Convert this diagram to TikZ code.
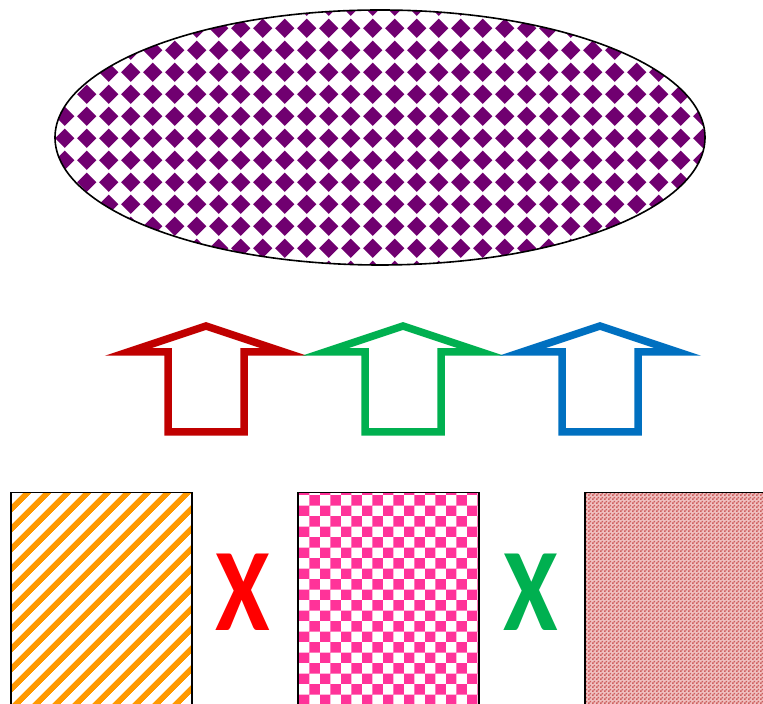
\documentclass[tikz,border=0pt]{standalone}
\usepackage{fontspec}
\usepackage{xcolor}
\usepackage{tikz}
\usetikzlibrary{shapes.geometric,patterns.meta}

\newfontfamily\crossfont{Carlito}

\definecolor{plum}{RGB}{112,0,112}
\definecolor{stripeorange}{RGB}{255,153,0}
\definecolor{hotpink}{RGB}{255,51,153}
\definecolor{rosebg}{RGB}{240,192,192}
\definecolor{rosedot}{RGB}{205,95,95}
\definecolor{arrowred}{RGB}{192,0,0}
\definecolor{arrowgreen}{RGB}{0,176,80}
\definecolor{arrowblue}{RGB}{0,112,192}

\tikzdeclarepattern{
  name=diamondgrid, type=uncolored,
  bounding box={(-10.85pt,-10.85pt) and (10.85pt,10.85pt)},
  tile size={(21.7pt,21.7pt)},
  code={\fill (-9.8pt,0pt) -- (0pt,9.8pt) -- (9.8pt,0pt) -- (0pt,-9.8pt) -- cycle;}
}
\tikzdeclarepattern{
  name=slantstripes, type=uncolored,
  bounding box={(0pt,0pt) and (14.14pt,14.14pt)},
  tile size={(14.14pt,14.14pt)},
  tile transformation={rotate=45},
  code={\fill (0pt,0pt) rectangle (14.14pt,6pt);}
}
\tikzdeclarepattern{
  name=bigchecks, type=uncolored,
  bounding box={(0pt,0pt) and (21.4pt,21.4pt)},
  tile size={(21.4pt,21.4pt)},
  code={\fill (0pt,0pt) rectangle (10.7pt,10.7pt) (10.7pt,10.7pt) rectangle (21.4pt,21.4pt);}
}
\tikzdeclarepattern{
  name=finechecks, type=uncolored,
  bounding box={(0pt,0pt) and (4pt,4pt)},
  tile size={(4pt,4pt)},
  code={\fill (0pt,0pt) rectangle (2pt,2pt) (2pt,2pt) rectangle (4pt,4pt);}
}

\begin{document}
\begin{tikzpicture}[
    x=1pt, y=1pt,
    blob/.style={ellipse, draw, line width=1.6pt, inner sep=0pt,
        minimum width=650pt, minimum height=255pt,
        pattern={diamondgrid}, pattern color=plum},
    tile/.style={draw, line width=1.5pt, anchor=north west, inner sep=0pt,
        minimum width=181pt, minimum height=260pt},
    cross/.style={font=\crossfont\bfseries\fontsize{118}{118}\selectfont, inner sep=0pt},
    uparrow/.style={line width=7.5pt, line join=miter}
]
\clip (0,0) rectangle (763,704);

\node[blob] at (380,566.5) (cloud) {};

\foreach \cx/\col in {206/arrowred, 403/arrowgreen, 600/arrowblue}
    \draw[uparrow, draw=\col] (\cx-78,352) -- (\cx,378) -- (\cx+78,352) -- (\cx+38,352)
        -- (\cx+38,272) -- (\cx-38,272) -- (\cx-38,352) -- cycle;

\node[tile, pattern={slantstripes}, pattern color=stripeorange] at (10,212) (stripes) {};
\node[tile, pattern={bigchecks}, pattern color=hotpink] at (297,212) (checks) {};
\node[tile, preaction={fill=rosebg}, pattern={finechecks}, pattern color=rosedot] at (584,212) (weave) {};

\node[cross, text=red] at (243,112) (xred) {\scalebox{0.84}[1]{X}};
\node[cross, text=arrowgreen] at (531,112) (xgreen) {\scalebox{0.84}[1]{X}};
\end{tikzpicture}
\end{document}
